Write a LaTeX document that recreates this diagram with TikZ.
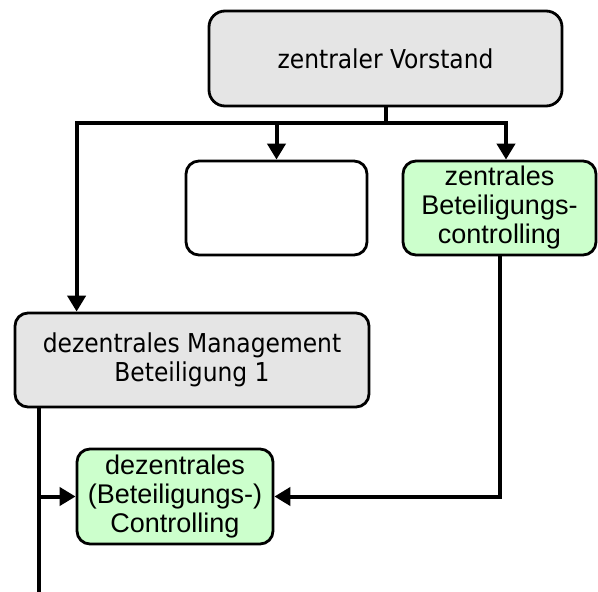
\documentclass[tikz,border=0pt]{standalone}
\usepackage{fontspec}
\usetikzlibrary{arrows.meta,calc}
\newfontfamily\boxfont{DejaVu Sans Condensed}
\newfontfamily\greenfont{Liberation Sans}
\definecolor{boxgray}{HTML}{E5E5E5}
\definecolor{boxgreen}{HTML}{CCFFCC}
\tikzset{
  unit/.style={draw=black, line width=2.8pt, rounded corners=13pt, inner sep=0pt, align=center},
  graybox/.style={unit, fill=boxgray, font=\boxfont\fontsize{26}{29}\selectfont},
  greenbox/.style={unit, fill=boxgreen, font=\greenfont\fontsize{27}{29}\selectfont},
  blankbox/.style={unit, fill=white},
  conn/.style={line width=4pt},
  arr/.style={conn, -{Triangle[width=18pt,length=16pt]}}
}
\begin{document}
\begin{tikzpicture}[x=1pt,y=-1pt]
  \useasboundingbox (0,0) rectangle (598,592);

  % boxes
  \node[graybox, minimum width=353pt, minimum height=95pt, rounded corners=16pt] (vorstand) at (385.5,58.5) {zentraler Vorstand};
  \node[blankbox, minimum width=181pt, minimum height=94pt] (leer) at (276.5,208) {};
  \node[greenbox, minimum width=193pt, minimum height=94pt] (zbc) at (499.5,208) {zentrales\\Beteiligungs-\\controlling};
  \node[graybox, minimum width=354pt, minimum height=94pt] (mgmt) at (192,360) {dezentrales Management\\Beteiligung 1};
  \node[greenbox, minimum width=196pt, minimum height=95pt] (dbc) at (175,496.5) {dezentrales\\(Beteiligungs-)\\Controlling};

  % branching points
  \coordinate (hub) at (385.5,123);
  \coordinate (mgmtin) at ($(mgmt.north west)+(63,0)$);
  \coordinate (zbcin) at ($(zbc.north)+(6.5,0)$);
  \coordinate (mgmtout) at ($(mgmt.south west)+(25,0)$);
  \coordinate (bottomend) at (mgmtout |- 0,592);

  % connectors
  \draw[conn] (vorstand.south) -- (hub);
  \draw[arr] (hub) -| (mgmtin);
  \draw[arr] (hub) -| (leer.north);
  \draw[arr] (hub) -| (zbcin);
  \draw[arr] (zbc.south) |- (dbc.east);
  \draw[conn] (mgmtout) -- (bottomend);
  \draw[arr] (mgmtout |- dbc.west) -- (dbc.west);
\end{tikzpicture}
\end{document}
